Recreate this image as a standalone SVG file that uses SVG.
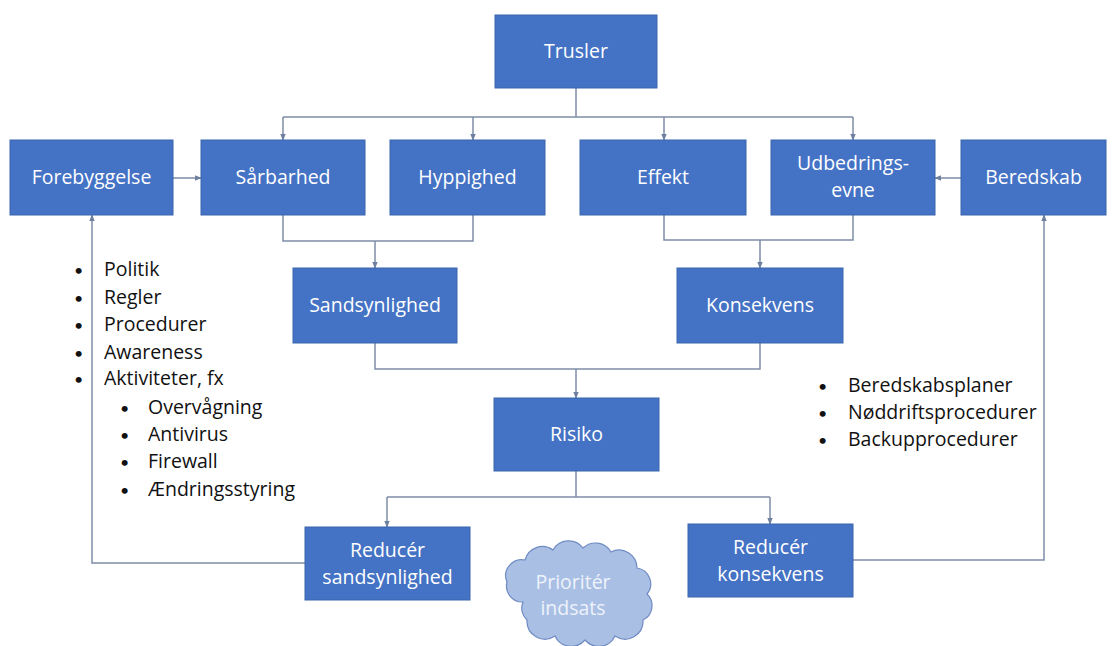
<svg xmlns="http://www.w3.org/2000/svg" width="1114" height="646" viewBox="0 0 1114 646">
<defs>
<style>
.box{fill:#4472C4;stroke:#3A64AE;stroke-width:1}
.bt{font-family:"Open Sans",Lato,sans-serif;font-size:19.5px;fill:#ffffff;text-anchor:middle}
.ln{fill:none;stroke:#7F8DA8;stroke-width:1.5}
.bl{font-family:"Open Sans",Lato,sans-serif;font-size:19.5px;fill:#111111}
.bd{font-family:Lato,sans-serif;font-size:16px;fill:#111111}
.cl{fill:#A9BFE4;stroke:#6F8BC2;stroke-width:1.2}
.ct{font-family:"Open Sans",Lato,sans-serif;font-size:19.5px;fill:#EEF3FB;text-anchor:middle}
</style>
<marker id="ah" viewBox="0 0 10 10" refX="9" refY="5" markerWidth="7" markerHeight="7" orient="auto" markerUnits="userSpaceOnUse">
<path d="M0,1 L10,5 L0,9 z" fill="#6F7FA0"/>
</marker>
</defs>
<rect width="1114" height="646" fill="#ffffff"/>
<g id="connectors">
<path class="ln" d="M576,88 V117"/>
<path class="ln" d="M283,117 H853"/>
<path class="ln" d="M283,117 V140" marker-end="url(#ah)"/>
<path class="ln" d="M473,117 V140" marker-end="url(#ah)"/>
<path class="ln" d="M664,117 V140" marker-end="url(#ah)"/>
<path class="ln" d="M853,117 V140" marker-end="url(#ah)"/>
<path class="ln" d="M173,178 H201" marker-end="url(#ah)"/>
<path class="ln" d="M961,178 H935" marker-end="url(#ah)"/>
<path class="ln" d="M283,215 V241 H473 V215"/>
<path class="ln" d="M375,241 V268" marker-end="url(#ah)"/>
<path class="ln" d="M664,215 V240 H853 V215"/>
<path class="ln" d="M760,240 V268" marker-end="url(#ah)"/>
<path class="ln" d="M375,343 V369 H760 V343"/>
<path class="ln" d="M576,369 V398" marker-end="url(#ah)"/>
<path class="ln" d="M576,471 V497"/>
<path class="ln" d="M387,497 H770"/>
<path class="ln" d="M387,497 V527" marker-end="url(#ah)"/>
<path class="ln" d="M770,497 V524" marker-end="url(#ah)"/>
<path class="ln" d="M305,563 H92 V215" marker-end="url(#ah)"/>
<path class="ln" d="M853,560 H1044 V215" marker-end="url(#ah)"/>
</g>
<g id="trusler"><rect class="box" x="495" y="15" width="162" height="73"/><text class="bt" x="576" y="58">Trusler</text></g>
<g id="forebyggelse"><rect class="box" x="10" y="140" width="163" height="75"/><text class="bt" x="91.5" y="184">Forebyggelse</text></g>
<g id="saarbarhed"><rect class="box" x="201" y="140" width="164" height="75"/><text class="bt" x="283" y="184">Sårbarhed</text></g>
<g id="hyppighed"><rect class="box" x="390" y="140" width="155" height="75"/><text class="bt" x="467.5" y="184">Hyppighed</text></g>
<g id="effekt"><rect class="box" x="580" y="140" width="166" height="75"/><text class="bt" x="663" y="184">Effekt</text></g>
<g id="udbedringsevne"><rect class="box" x="771" y="140" width="164" height="75"/><text class="bt" x="853" y="170">Udbedrings-</text><text class="bt" x="853" y="197">evne</text></g>
<g id="beredskab"><rect class="box" x="961" y="140" width="145" height="75"/><text class="bt" x="1033.5" y="184">Beredskab</text></g>
<g id="sandsynlighed"><rect class="box" x="293" y="268" width="164" height="75"/><text class="bt" x="375" y="312">Sandsynlighed</text></g>
<g id="konsekvens"><rect class="box" x="677" y="268" width="166" height="75"/><text class="bt" x="760" y="312">Konsekvens</text></g>
<g id="risiko"><rect class="box" x="494" y="398" width="165" height="73"/><text class="bt" x="576.5" y="441">Risiko</text></g>
<g id="reducer-sandsynlighed"><rect class="box" x="305" y="527" width="165" height="73"/><text class="bt" x="387.5" y="557">Reducér</text><text class="bt" x="387.5" y="584">sandsynlighed</text></g>
<g id="reducer-konsekvens"><rect class="box" x="688" y="524" width="165" height="73"/><text class="bt" x="770.5" y="554">Reducér</text><text class="bt" x="770.5" y="581">konsekvens</text></g>
<g id="prioriter-indsats">
<path class="cl" d="M507,582 a16,16 0 0 1 18,-22 a18,18 0 0 1 28,-10 a18,18 0 0 1 30,-2 a18,18 0 0 1 28,4 a18,18 0 0 1 26,16 a16,16 0 0 1 10,26 a16,16 0 0 1 -4,26 a18,18 0 0 1 -28,16 a18,18 0 0 1 -30,4 a18,18 0 0 1 -30,-4 a18,18 0 0 1 -28,-16 a16,16 0 0 1 -4,-18 a16,16 0 0 1 -16,-20 z"/>
<text class="ct" x="573" y="589">Prioritér</text><text class="ct" x="573" y="615">indsats</text>
</g>
<g id="forebyggelse-liste">
<text class="bd" x="74" y="276">•</text><text class="bl" x="104" y="276">Politik</text>
<text class="bd" x="74" y="304">•</text><text class="bl" x="104" y="304">Regler</text>
<text class="bd" x="74" y="331">•</text><text class="bl" x="104" y="331">Procedurer</text>
<text class="bd" x="74" y="359">•</text><text class="bl" x="104" y="359">Awareness</text>
<text class="bd" x="74" y="385">•</text><text class="bl" x="104" y="385">Aktiviteter, fx</text>
<text class="bd" x="120" y="414">•</text><text class="bl" x="148" y="414">Overvågning</text>
<text class="bd" x="120" y="441">•</text><text class="bl" x="148" y="441">Antivirus</text>
<text class="bd" x="120" y="468">•</text><text class="bl" x="148" y="468">Firewall</text>
<text class="bd" x="120" y="496">•</text><text class="bl" x="148" y="496">Ændringsstyring</text>
</g>
<g id="beredskab-liste">
<text class="bd" x="818" y="392">•</text><text class="bl" x="848" y="392">Beredskabsplaner</text>
<text class="bd" x="818" y="419">•</text><text class="bl" x="848" y="419">Nøddriftsprocedurer</text>
<text class="bd" x="818" y="446">•</text><text class="bl" x="848" y="446">Backupprocedurer</text>
</g>
</svg>
